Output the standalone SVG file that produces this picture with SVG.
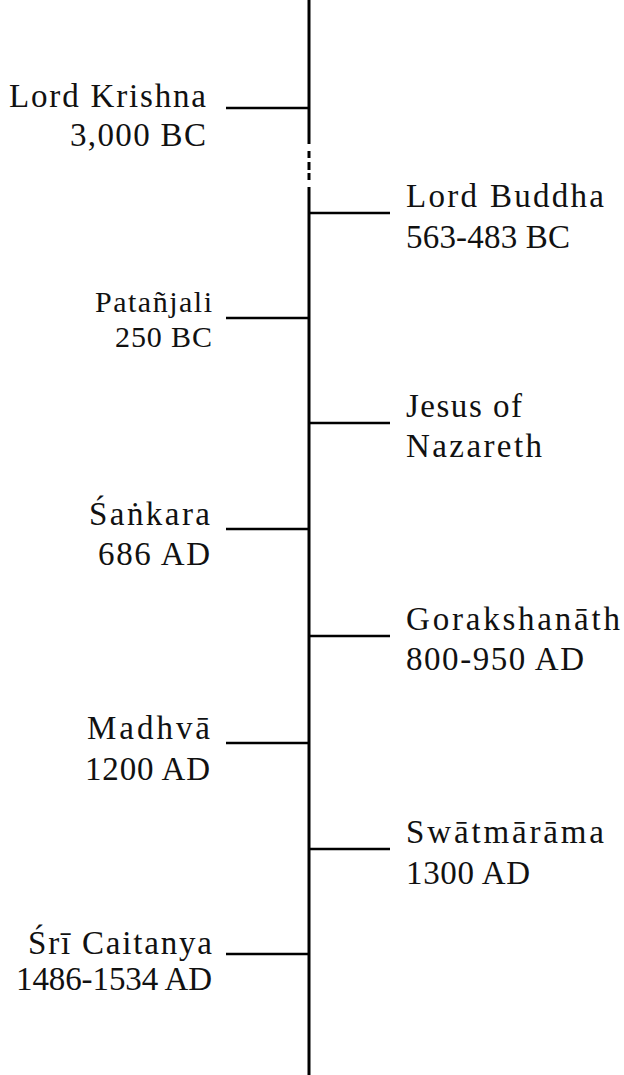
<svg xmlns="http://www.w3.org/2000/svg" width="624" height="1075" viewBox="0 0 624 1075">
<style>
text{font-family:"Liberation Serif","Times New Roman",serif;font-size:33px;fill:#111}
.l{text-anchor:end}
.s{font-size:30px}
.ax{stroke:#000;stroke-width:3;fill:none}
.tk{stroke:#000;stroke-width:2.5;fill:none}
</style>
<rect width="624" height="1075" fill="#fff"/>
<g id="connectors">
<line class="ax" x1="309" y1="0" x2="309" y2="144"/>
<line class="ax" x1="309" y1="151" x2="309" y2="158"/>
<line class="ax" x1="309" y1="162" x2="309" y2="170"/>
<line class="ax" x1="309" y1="173" x2="309" y2="180"/>
<line class="ax" x1="309" y1="187" x2="309" y2="1075"/>
<line class="tk" x1="226" y1="108" x2="309" y2="108"/>
<line class="tk" x1="309" y1="213" x2="390" y2="213"/>
<line class="tk" x1="226" y1="318" x2="309" y2="318"/>
<line class="tk" x1="309" y1="423" x2="390" y2="423"/>
<line class="tk" x1="226" y1="529" x2="309" y2="529"/>
<line class="tk" x1="309" y1="636" x2="390" y2="636"/>
<line class="tk" x1="226" y1="743" x2="309" y2="743"/>
<line class="tk" x1="309" y1="849" x2="390" y2="849"/>
<line class="tk" x1="226" y1="954" x2="309" y2="954"/>
</g>
<g id="krishna"><text class="l" x="206" y="107" textLength="197">Lord Krishna</text><text class="l" x="206" y="146" textLength="136">3,000 BC</text></g>
<g id="buddha"><text x="406" y="207" textLength="198">Lord Buddha</text><text x="406" y="248" textLength="164">563-483 BC</text></g>
<g id="patanjali"><text class="l s" x="212" y="312" textLength="117">Patañjali</text><text class="l s" x="212" y="347" textLength="97">250 BC</text></g>
<g id="jesus"><text x="406" y="417" textLength="116">Jesus of</text><text x="406" y="457" textLength="136">Nazareth</text></g>
<g id="sankara"><text class="l" x="210" y="525" textLength="121">Śaṅkara</text><text class="l" x="210" y="565" textLength="112">686 AD</text></g>
<g id="gorakshanath"><text x="406" y="630" textLength="214">Gorakshanāth</text><text x="406" y="670" textLength="178">800-950 AD</text></g>
<g id="madhva"><text class="l" x="210" y="739" textLength="123">Madhvā</text><text class="l" x="210" y="780" textLength="125">1200 AD</text></g>
<g id="swatmarama"><text x="406" y="843" textLength="198">Swātmārāma</text><text x="406" y="884" textLength="124">1300 AD</text></g>
<g id="caitanya"><text class="l" x="212" y="954" textLength="184">Śrī Caitanya</text><text class="l" x="212" y="990" textLength="196">1486-1534 AD</text></g>
</svg>
